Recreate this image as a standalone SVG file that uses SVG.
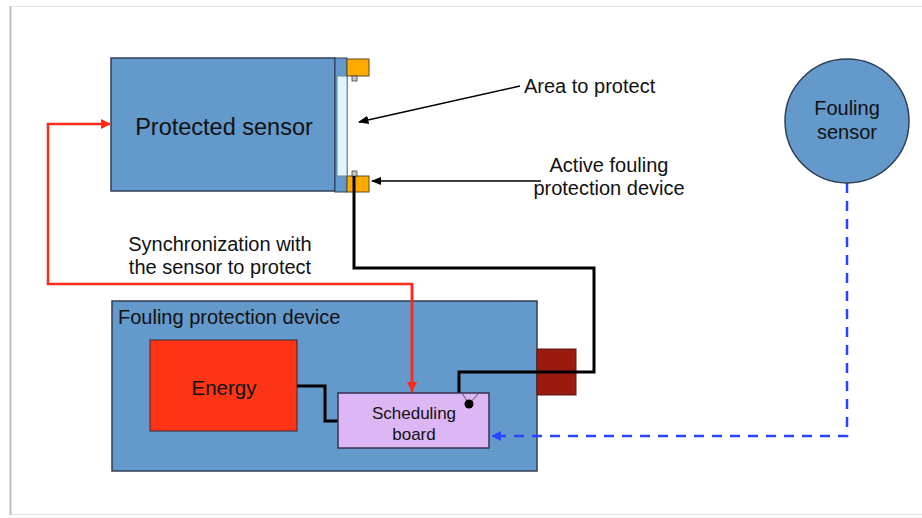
<svg xmlns="http://www.w3.org/2000/svg" width="922" height="518" viewBox="0 0 922 518">
  <defs>
    <style>
      text { font-family: "Liberation Sans", Arial, sans-serif; fill: #111; }
      .blue { fill: #6499cb; stroke: #2f3f55; stroke-width: 1.5; }
      .lbl { font-size: 20px; }
      .wire { fill: none; stroke: #000; stroke-width: 3; }
      .sync { fill: none; stroke: #ff2a1a; stroke-width: 2.5; }
      .feed { fill: none; stroke: #2a44ff; stroke-width: 2.5; stroke-dasharray: 10 8; }
      .ptr { fill: none; stroke: #000; stroke-width: 1.5; }
    </style>
    <marker id="redHead" viewBox="0 0 10 10" refX="9" refY="5" markerWidth="4" markerHeight="4" orient="auto">
      <path d="M0,0 L10,5 L0,10 Z" fill="#ff2a1a"/>
    </marker>
    <marker id="blueHead" viewBox="0 0 10 10" refX="9" refY="5" markerWidth="4" markerHeight="4" orient="auto">
      <path d="M0,0 L10,5 L0,10 Z" fill="#2a44ff"/>
    </marker>
    <marker id="blackHead" viewBox="0 0 10 10" refX="9" refY="5" markerWidth="7" markerHeight="7" orient="auto">
      <path d="M0,1 L10,5 L0,9 Z" fill="#000"/>
    </marker>
  </defs>

  <!-- page frame -->
  <rect x="0" y="0" width="922" height="518" fill="#fff"/>
  <rect x="10.5" y="6.5" width="930" height="508" fill="#fff" stroke="#e4e4e4" stroke-width="1"/>
  <line x1="10.5" y1="6" x2="10.5" y2="515" stroke="#bdbdbd" stroke-width="2"/>

  <!-- protected sensor with its window and protection device -->
  <g id="protected-sensor">
    <rect class="blue" x="111" y="58" width="224" height="133"/>
    <text x="224" y="135" font-size="23.5" text-anchor="middle">Protected sensor</text>
  </g>
  <g id="protected-area">
    <rect x="335" y="58" width="12" height="134" fill="#6499cb" stroke="#2f3f55" stroke-width="1"/>
    <rect x="337" y="76" width="10" height="100" fill="#dff6ff" stroke="#6a8aa0" stroke-width="1"/>
  </g>
  <g id="active-device">
    <rect x="347" y="59" width="22" height="17" fill="#ffaa00" stroke="#5a4a20" stroke-width="1"/>
    <rect x="347" y="176" width="22" height="16" fill="#ffaa00" stroke="#5a4a20" stroke-width="1"/>
    <rect x="352" y="76" width="5" height="5" fill="#c8c8c8" stroke="#444" stroke-width="0.8"/>
    <rect x="352" y="171" width="5" height="5" fill="#c8c8c8" stroke="#444" stroke-width="0.8"/>
  </g>

  <!-- fouling protection device -->
  <g id="fouling-protection-device">
    <rect class="blue" x="112" y="301" width="425" height="170"/>
    <text x="118" y="324" class="lbl">Fouling protection device</text>
  </g>
  <g id="energy">
    <rect x="150" y="340" width="147" height="91" fill="#ff3316" stroke="#3a2a2a" stroke-width="1"/>
    <text x="224" y="395" font-size="20.5" text-anchor="middle">Energy</text>
  </g>
  <g id="actuator">
    <rect x="537" y="349" width="39" height="46" fill="#9b1a10" stroke="#5a1a10" stroke-width="1"/>
  </g>

  <!-- connectors -->
  <g id="connectors">
    <path class="wire" d="M297,386 H325 V421 H338"/>
    <path class="wire" d="M354,176 V268 H594 V372 H459 V393"/>
    <path class="sync" d="M412,393 V284 H48 V124 H110" marker-end="url(#redHead)"/>
    <path class="sync" d="M412,284 V391" marker-end="url(#redHead)"/>
    <path class="feed" d="M847,183 V436 H492" marker-end="url(#blueHead)"/>
    <line class="ptr" x1="520" y1="86" x2="359" y2="122" marker-end="url(#blackHead)"/>
    <line class="ptr" x1="541" y1="181" x2="372" y2="181" marker-end="url(#blackHead)"/>
  </g>

  <g id="scheduling-board">
    <rect x="338" y="393" width="151" height="55" fill="#ddb6f6" stroke="#3a3050" stroke-width="1.5"/>
    <path d="M462,393 L469,404 L479,393" fill="none" stroke="#555" stroke-width="1"/>
    <circle cx="469" cy="404" r="4.5" fill="#000"/>
    <text x="414" y="419" font-size="17" text-anchor="middle">Scheduling</text>
    <text x="414" y="440" font-size="17" text-anchor="middle">board</text>
  </g>

  <g id="fouling-sensor">
    <circle class="blue" cx="847" cy="121" r="62"/>
    <text x="847" y="115" class="lbl" text-anchor="middle">Fouling</text>
    <text x="847" y="139" class="lbl" text-anchor="middle">sensor</text>
  </g>

  <!-- annotations -->
  <text x="524" y="93" class="lbl">Area to protect</text>
  <text x="609" y="172" class="lbl" text-anchor="middle">Active fouling</text>
  <text x="609" y="195" class="lbl" text-anchor="middle">protection device</text>
  <text x="220" y="251" class="lbl" text-anchor="middle">Synchronization with</text>
  <text x="220" y="274" class="lbl" text-anchor="middle">the sensor to protect</text>
</svg>
